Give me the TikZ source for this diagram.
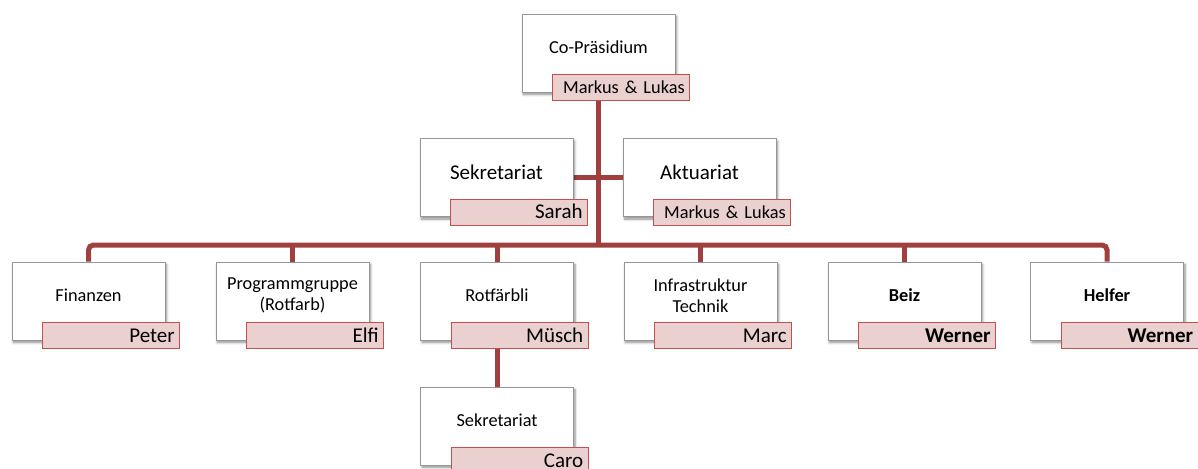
\documentclass[tikz,border=0pt]{standalone}
\usepackage{fontspec}
\setmainfont{Carlito}
\usetikzlibrary{shadows.blur,calc,backgrounds}
\definecolor{conncol}{RGB}{160,64,62}
\definecolor{tagline}{RGB}{192,80,77}
\definecolor{tagfill}{RGB}{234,208,207}
\definecolor{boxline}{RGB}{150,150,150}
\begin{document}
\begin{tikzpicture}[x=1pt,y=-1pt,
 unit/.style={draw=boxline, line width=0.8pt, fill=white, minimum width=153pt, minimum height=78pt, inner sep=0pt,
   blur shadow={shadow xshift=1.5pt, shadow yshift=-2.5pt, shadow blur radius=2.5pt, shadow blur steps=6, shadow opacity=45}},
 unittext/.style={font=\fontsize{18.3}{21}\selectfont, align=center, inner sep=0pt},
 bigtext/.style={font=\fontsize{21}{24}\selectfont, align=center, inner sep=0pt},
 tag/.style={draw=tagline, line width=1.4pt, fill=tagfill, minimum width=137pt, minimum height=26pt,
   text width=127pt, align=right, inner xsep=5pt, inner ysep=0pt, anchor=south east,
   font=\fontsize{21}{24}\selectfont, text height=13.5pt, text depth=0pt},
 smalltag/.style={tag, font=\fontsize{18.3}{21}\selectfont, text height=11.8pt},
 conn/.style={draw=conncol, line width=5pt}]
\useasboundingbox (0,0) rectangle (1198,468);

% level 0
\node[unit] (cop) at (598.5,53) {};
\node[unittext] (copt) at ($(cop.north)+(0,34)$) {Co-Präsidium};
\node[smalltag] (copn) at ($(cop.south east)+(15,9)$) {Markus \& Lukas};

% level 1
\node[unit] (sek) at (496.5,177.5) {};
\node[bigtext] (sekt) at ($(sek.north)+(0,34)$) {Sekretariat};
\node[tag] (sekn) at ($(sek.south east)+(15,9)$) {Sarah};

\node[unit] (akt) at (699.5,177.5) {};
\node[bigtext] (aktt) at ($(akt.north)+(0,34)$) {Aktuariat};
\node[smalltag] (aktn) at ($(akt.south east)+(15,9)$) {Markus \& Lukas};

% level 2
\node[unit] (fin) at (88.5,301) {};
\node[unittext] (fint) at ($(fin.north)+(0,34)$) {Finanzen};
\node[tag] (finn) at ($(fin.south east)+(15,9)$) {Peter};

\node[unit] (prg) at (292.5,301) {};
\node[unittext] (prgt) at ($(prg.north)+(0,34)$) {Programmgruppe\\(Rotfarb)};
\node[tag] (prgn) at ($(prg.south east)+(15,9)$) {Elfi};

\node[unit] (rot) at (497,301) {};
\node[unittext] (rott) at ($(rot.north)+(0,34)$) {Rotfärbli};
\node[tag] (rotn) at ($(rot.south east)+(15,9)$) {Müsch};

\node[unit] (inf) at (700.5,301) {};
\node[unittext] (inft) at ($(inf.north)+(0,34)$) {Infrastruktur\\Technik};
\node[tag] (infn) at ($(inf.south east)+(15,9)$) {Marc};

\node[unit] (beiz) at (904.5,301) {};
\node[unittext] (beizt) at ($(beiz.north)+(0,34)$) {\bfseries Beiz};
\node[tag] (beizn) at ($(beiz.south east)+(15,9)$) {\bfseries Werner};

\node[unit] (helf) at (1107,301) {};
\node[unittext] (helft) at ($(helf.north)+(0,34)$) {\bfseries Helfer};
\node[tag] (helfn) at ($(helf.south east)+(15,9)$) {\bfseries Werner};

% level 3
\node[unit] (sub) at (497,426) {};
\node[unittext] (subt) at ($(sub.north)+(0,34)$) {Sekretariat};
\node[tag] (subn) at ($(sub.south east)+(15,9)$) {Caro};

\coordinate (bar) at (598.5,245);

\begin{scope}[on background layer]
\draw[conn] (cop.south) -- (bar);
\draw[conn] (sek.east) -- (akt.west);
\draw[conn, rounded corners=5pt] (fin.north) -- (fin.north |- bar) -- (helf.north |- bar) -- (helf.north);
\draw[conn] (prg.north) -- (prg.north |- bar);
\draw[conn] (rot.north) -- (rot.north |- bar);
\draw[conn] (inf.north) -- (inf.north |- bar);
\draw[conn] (beiz.north) -- (beiz.north |- bar);
\draw[conn] (rot.south) -- (sub.north);
\end{scope}
\end{tikzpicture}
\end{document}
